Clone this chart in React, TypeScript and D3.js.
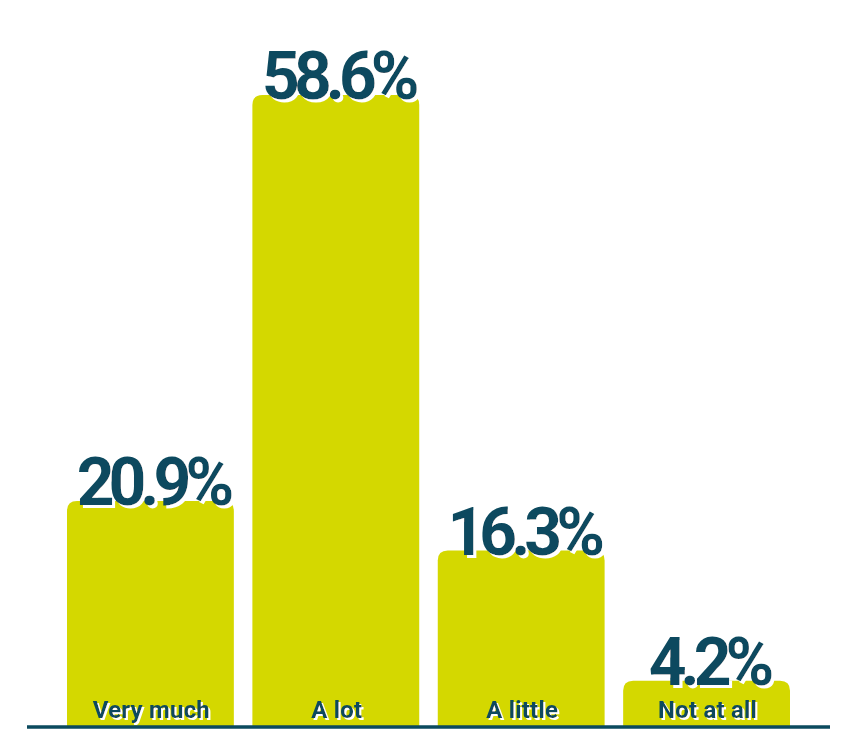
import React from "react";
import * as d3 from "d3";

const categories = ["Very much", "A lot", "A little", "Not at all"];
const values = [20.9, 58.6, 16.3, 4.2];
const valueLabels = ["20.9%", "58.6%", "16.3%", "4.2%"];

const W = 850;
const H = 753;
const BAR = "#d4d800";
const INK = "#0b4a5e";
const FONT = "Roboto, 'Noto Sans', sans-serif";

export default function App() {
  const x = d3.scaleBand<string>().domain(categories).range([67, 790]).paddingInner(0.1).paddingOuter(0);
  const y = d3.scaleLinear().domain([0, 60]).range([726, 80]);
  const r = 10;
  const barPath = (x0: number, y0: number, w: number, y1: number) => {
    const rr = Math.min(r, (y1 - y0) / 2);
    return `M${x0},${y1}V${y0 + rr}Q${x0},${y0} ${x0 + rr},${y0}H${x0 + w - rr}Q${x0 + w},${y0} ${x0 + w},${y0 + rr}V${y1}Z`;
  };
  return (
    <svg width={W} height={H} style={{ display: "block", position: "absolute", left: 0, top: 0 }}>
      <defs>
        <filter id="shBig" x="-10%" y="-20%" width="130%" height="150%">
          <feOffset in="SourceAlpha" dx="3" dy="2.5" result="off" />
          <feFlood floodColor="#ffffff" />
          <feComposite in2="off" operator="in" result="sh" />
          <feMerge>
            <feMergeNode in="sh" />
            <feMergeNode in="SourceGraphic" />
          </feMerge>
        </filter>
        <filter id="shSmall" x="-10%" y="-20%" width="130%" height="150%">
          <feOffset in="SourceAlpha" dx="1.5" dy="1.5" result="off" />
          <feFlood floodColor="#ffffff" />
          <feComposite in2="off" operator="in" result="sh" />
          <feMerge>
            <feMergeNode in="sh" />
            <feMergeNode in="SourceGraphic" />
          </feMerge>
        </filter>
      </defs>
      <rect width={W} height={H} fill="#ffffff" />
      {categories.map((c, i) => {
        const bx = x(c)!;
        const bw = x.bandwidth();
        const top = y(values[i]);
        return <path key={c} d={barPath(bx, top, bw, y(0))} fill={BAR} />;
      })}
      {categories.map((c, i) => {
        const cx = x(c)! + x.bandwidth() / 2;
        const top = y(values[i]);
        return (
          <g key={c + "-t"} fontFamily={FONT} fontWeight={700} textAnchor="middle">
            <text x={cx + 2} y={top + 4} fontSize={66} letterSpacing={-6} fill={INK} filter="url(#shBig)">{valueLabels[i]}</text>
            <text x={cx + 1} y={y(0) - 8} fontSize={24} letterSpacing={0.2} fill={INK} filter="url(#shSmall)">{c}</text>
          </g>
        );
      })}
      <line x1={27} x2={830} y1={y(0) + 1} y2={y(0) + 1} stroke={INK} strokeWidth={3.5} />
    </svg>
  );
}
